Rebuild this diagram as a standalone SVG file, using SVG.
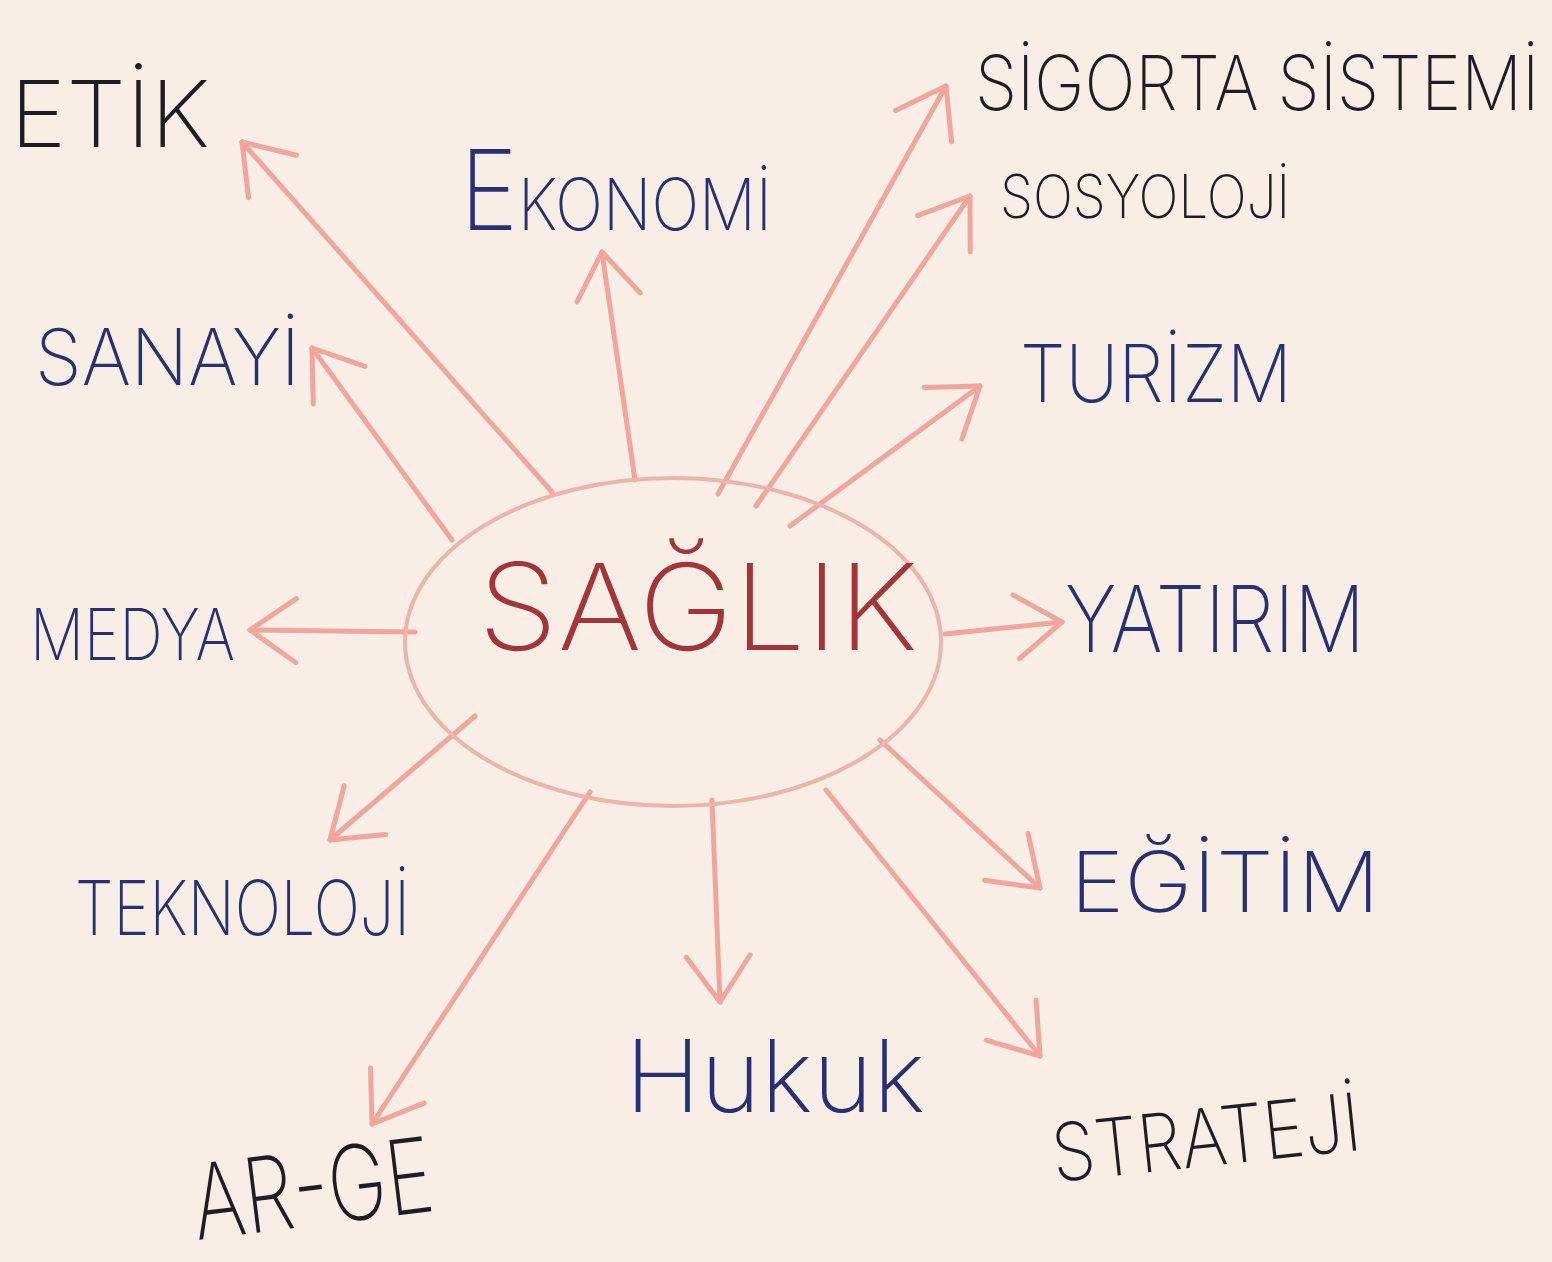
<svg xmlns="http://www.w3.org/2000/svg" width="1552" height="1262" viewBox="0 0 1552 1262">
<style>
.bg{fill:#f8eee5}
.conn{stroke:#f0a59d;stroke-width:5;fill:none;stroke-linecap:round;stroke-linejoin:round}
.hub{stroke:#efb3ad;stroke-width:4;fill:none}
.lbl{font-family:Inter,"Liberation Sans","DejaVu Sans",sans-serif;font-weight:200}
.blk{fill:#1f1d24}
.blu{fill:#283074}
.red{fill:#a3353a}
</style>
<defs>
<marker id="head" markerUnits="userSpaceOnUse" markerWidth="90" markerHeight="90" viewBox="-55 -45 65 90" refX="0" refY="0" orient="auto">
<path d="M -46 -32 L 0 0 L -46 32" fill="none" stroke="#f0a59d" stroke-width="5" stroke-linecap="round" stroke-linejoin="round"/>
</marker>
</defs>
<rect class="bg" x="0" y="0" width="1552" height="1262"/>
<g id="connectors">
<line class="conn" x1="552" y1="492" x2="242" y2="142" marker-end="url(#head)"/>
<line class="conn" x1="452" y1="540" x2="312" y2="348" marker-end="url(#head)"/>
<line class="conn" x1="635" y1="480" x2="602" y2="252" marker-end="url(#head)"/>
<line class="conn" x1="718" y1="494" x2="946" y2="86" marker-end="url(#head)"/>
<line class="conn" x1="756" y1="506" x2="970" y2="196" marker-end="url(#head)"/>
<line class="conn" x1="790" y1="526" x2="980" y2="386" marker-end="url(#head)"/>
<line class="conn" x1="945" y1="634" x2="1062" y2="622" marker-end="url(#head)"/>
<line class="conn" x1="415" y1="632" x2="250" y2="630" marker-end="url(#head)"/>
<line class="conn" x1="475" y1="716" x2="330" y2="840" marker-end="url(#head)"/>
<line class="conn" x1="590" y1="792" x2="372" y2="1124" marker-end="url(#head)"/>
<line class="conn" x1="712" y1="800" x2="720" y2="1002" marker-end="url(#head)"/>
<line class="conn" x1="880" y1="740" x2="1040" y2="888" marker-end="url(#head)"/>
<line class="conn" x1="826" y1="790" x2="1040" y2="1056" marker-end="url(#head)"/>
</g>
<g id="saglik">
<ellipse class="hub" cx="673" cy="642" rx="268" ry="164"/>
<text class="lbl red" x="478" y="650" font-size="120" textLength="440" lengthAdjust="spacingAndGlyphs">SAĞLIK</text>
</g>
<g id="etik"><text class="lbl blk" x="10" y="147" font-size="92" textLength="200" lengthAdjust="spacingAndGlyphs">ETİK</text></g>
<g id="ekonomi"><text class="lbl blu" x="460" y="230" font-size="72" textLength="312" lengthAdjust="spacingAndGlyphs"><tspan font-size="112">E</tspan>KONOMİ</text></g>
<g id="sigorta"><text class="lbl blk" transform="translate(975 110) scale(0.89 1)" x="0" y="0" font-size="76">SİGORTA SİSTEMİ</text></g>
<g id="sosyoloji"><text class="lbl blk" x="1000" y="218" font-size="60" textLength="290" lengthAdjust="spacingAndGlyphs">SOSYOLOJİ</text></g>
<g id="turizm"><text class="lbl blu" x="1020" y="402" font-size="80" textLength="272" lengthAdjust="spacingAndGlyphs">TURİZM</text></g>
<g id="sanayi"><text class="lbl blu" x="35" y="385" font-size="78" textLength="265" lengthAdjust="spacingAndGlyphs">SANAYİ</text></g>
<g id="medya"><text class="lbl blu" x="30" y="660" font-size="72" textLength="205" lengthAdjust="spacingAndGlyphs">MEDYA</text></g>
<g id="yatirim"><text class="lbl blu" x="1065" y="652" font-size="92" textLength="300" lengthAdjust="spacingAndGlyphs">YATIRIM</text></g>
<g id="teknoloji"><text class="lbl blu" x="75" y="935" font-size="76" textLength="335" lengthAdjust="spacingAndGlyphs">TEKNOLOJİ</text></g>
<g id="egitim"><text class="lbl blu" x="1070" y="912" font-size="84" textLength="310" lengthAdjust="spacingAndGlyphs">EĞİTİM</text></g>
<g id="hukuk"><text class="lbl blu" x="625" y="1112" font-size="100" textLength="300" lengthAdjust="spacingAndGlyphs">Hukuk</text></g>
<g id="strateji"><text class="lbl blk" x="1055" y="1182" font-size="80" textLength="310" lengthAdjust="spacingAndGlyphs" transform="rotate(-6 1055 1182)">STRATEJİ</text></g>
<g id="arge"><text class="lbl blk" transform="translate(197 1240) rotate(-7) scale(0.76 1)" x="0" y="0" font-size="104">AR-GE</text></g>
</svg>
